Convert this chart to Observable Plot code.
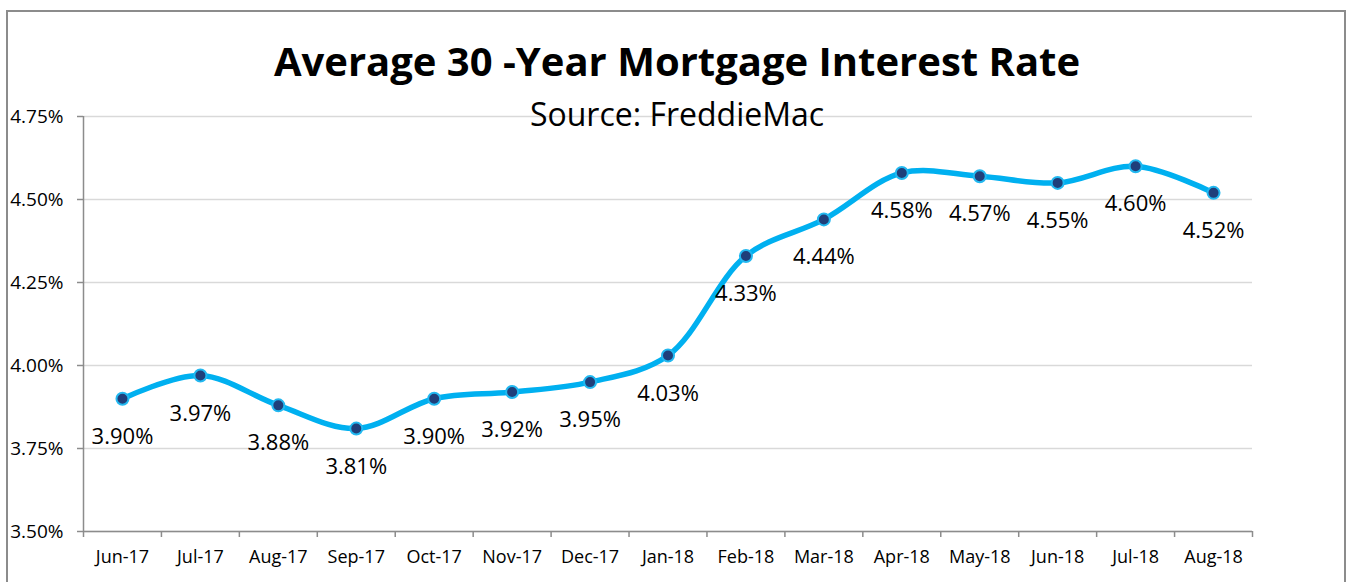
<!DOCTYPE html>
<html>
<head>
<meta charset="utf-8">
<script src="https://cdn.jsdelivr.net/npm/d3@7"></script>
<script src="https://cdn.jsdelivr.net/npm/@observablehq/plot@0.6"></script>
<style>
  html, body { margin: 0; padding: 0; background: #fff; }
  #wrap { position: relative; width: 1351px; height: 582px; overflow: hidden; font-family: "Open Sans", sans-serif; }
  #frame { position: absolute; left: 6px; top: 10px; width: 1340px; height: 600px; border: 2px solid #8c8c8c; box-sizing: border-box; }
  #title { position: absolute; left: 6px; width: 1342px; top: 41px; text-align: center; font-weight: bold; font-size: 40px; color: #000; line-height: 1; }
  #subtitle { position: absolute; left: 6px; width: 1342px; top: 98px; text-align: center; font-size: 32px; color: #000; line-height: 1; }
  #chart { position: absolute; left: 0; top: 0; }
</style>
</head>
<body>
<div id="wrap">
  <div id="frame"></div>
  <div id="chart"></div>
  <div id="title">Average 30 -Year Mortgage Interest Rate</div>
  <div id="subtitle">Source: FreddieMac</div>
</div>
<script>
const months = ["Jun-17","Jul-17","Aug-17","Sep-17","Oct-17","Nov-17","Dec-17","Jan-18","Feb-18","Mar-18","Apr-18","May-18","Jun-18","Jul-18","Aug-18"];
const rates = [3.90, 3.97, 3.88, 3.81, 3.90, 3.92, 3.95, 4.03, 4.33, 4.44, 4.58, 4.57, 4.55, 4.60, 4.52];
const yTicks = [3.50, 3.75, 4.00, 4.25, 4.50, 4.75];

const data = months.map((m, i) => ({i, month: m, rate: rates[i]}));
const centers = months.map((m, i) => i);
const bounds = d3.range(-0.5, months.length, 1);

const chart = Plot.plot({
  width: 1351,
  height: 582,
  marginLeft: 83,
  marginRight: 99,
  marginTop: 116,
  marginBottom: 51,
  style: {fontFamily: "Open Sans, sans-serif", fontSize: "18px", color: "#000", background: "transparent"},
  x: {type: "linear", domain: [-0.5, months.length - 0.5]},
  y: {domain: [3.5, 4.75]},
  marks: [
    Plot.gridY(yTicks, {stroke: "#d9d9d9", strokeOpacity: 1, strokeWidth: 1.5}),
    Plot.axisY(yTicks, {tickSize: 6, tickPadding: 14, stroke: "#8c8c8c", strokeWidth: 1.5, tickFormat: d => d.toFixed(2) + "%", label: null, fontSize: 19, fill: "#000"}),
    Plot.axisX(bounds, {tickSize: 6, tickFormat: () => "", stroke: "#8c8c8c", strokeWidth: 1.5, label: null}),
    Plot.axisX(centers, {tickSize: 0, tickPadding: 19, tickFormat: i => months[i], label: null, fontSize: 18, fill: "#000"}),
    Plot.ruleY([3.5], {stroke: "#8c8c8c", strokeWidth: 1.5}),
    Plot.ruleX([-0.5], {stroke: "#8c8c8c", strokeWidth: 1.5}),
    Plot.line(data, {x: "i", y: "rate", curve: "catmull-rom", stroke: "#00b0f0", strokeWidth: 5.5}),
    Plot.dot(data, {x: "i", y: "rate", r: 6, fill: "#1f3f7a", stroke: "#22b8f0", strokeWidth: 2}),
    Plot.text(data, {x: "i", y: "rate", text: d => d.rate.toFixed(2) + "%", dy: 38, fontSize: 22, fill: "#000"})
  ]
});
document.getElementById("chart").appendChild(chart);
</script>
</body>
</html>
